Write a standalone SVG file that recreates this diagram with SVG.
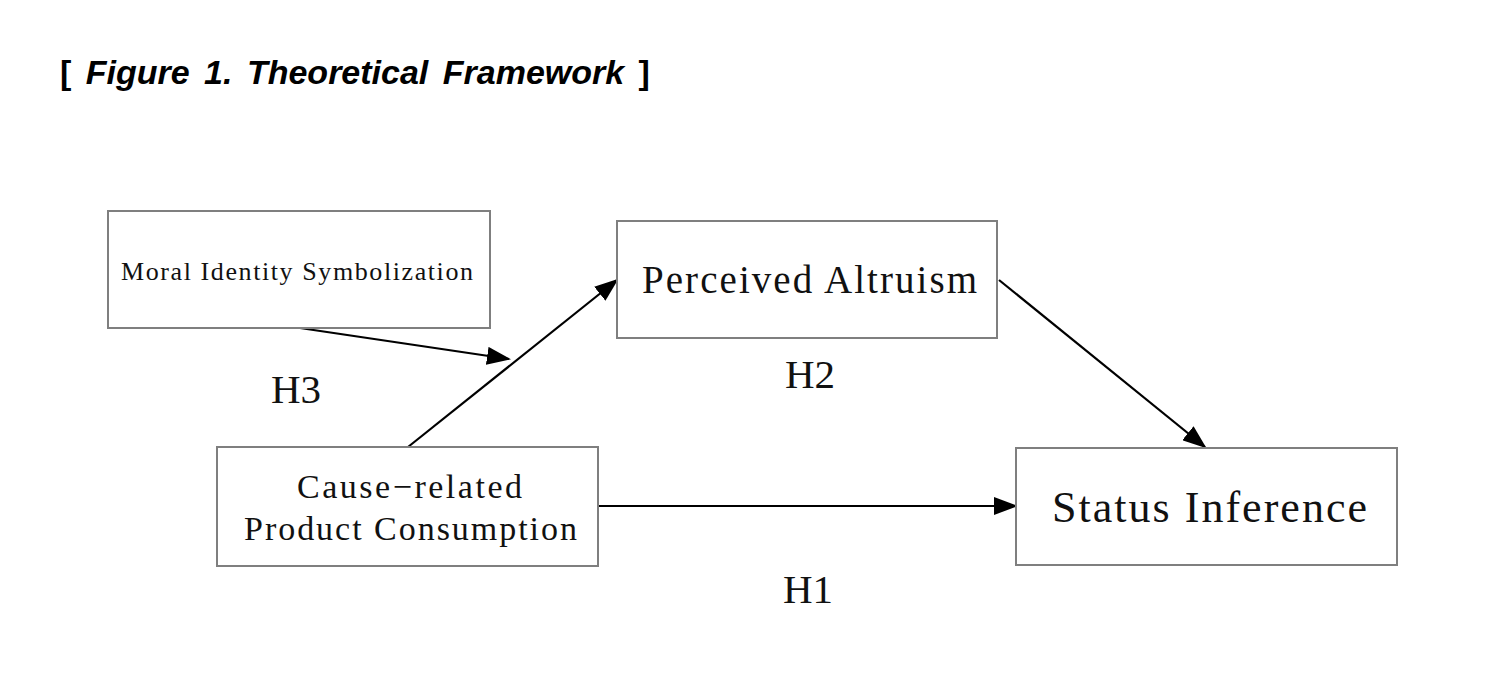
<svg xmlns="http://www.w3.org/2000/svg" width="1488" height="680" viewBox="0 0 1488 680">
<style>
.box{fill:#fff;stroke:#7f7f7f;stroke-width:2}
.lbl{font-family:"Liberation Serif","DejaVu Serif",serif;fill:#111}
.arr{stroke:#000;stroke-width:2.2;fill:none;marker-end:url(#ah)}
.title{font-family:"Liberation Sans",Arial,sans-serif;font-weight:bold;font-size:34px;fill:#000;word-spacing:5px}
</style>
<defs>
<marker id="ah" markerWidth="24" markerHeight="18" refX="22" refY="9" orient="auto" markerUnits="userSpaceOnUse" viewBox="0 0 24 18">
<path d="M0,0 L24,9 L0,18 Z" fill="#000"/>
</marker>
</defs>
<rect width="1488" height="680" fill="#fff"/>
<text class="title" x="60" y="84">[ <tspan font-style="italic">Figure 1. Theoretical Framework</tspan> ]</text>
<g id="connectors">
<line class="arr" x1="300" y1="328" x2="509" y2="359"/>
<line class="arr" x1="408" y1="447" x2="617" y2="280"/>
<line class="arr" x1="999" y1="280" x2="1205" y2="447"/>
<line class="arr" x1="598" y1="506" x2="1016" y2="506"/>
</g>
<g id="moral">
<rect class="box" x="108" y="211" width="382" height="117"/>
<text class="lbl" x="121" y="280" font-size="26" textLength="352" lengthAdjust="spacing">Moral Identity Symbolization</text>
</g>
<g id="altruism">
<rect class="box" x="617" y="221" width="380" height="117"/>
<text class="lbl" x="642" y="293" font-size="39" textLength="335" lengthAdjust="spacing">Perceived Altruism</text>
</g>
<g id="cause">
<rect class="box" x="217" y="447" width="381" height="119"/>
<text class="lbl" x="297" y="498" font-size="34" textLength="225" lengthAdjust="spacing">Cause−related</text>
<text class="lbl" x="244" y="540" font-size="34" textLength="333" lengthAdjust="spacing">Product Consumption</text>
</g>
<g id="status">
<rect class="box" x="1016" y="448" width="381" height="117"/>
<text class="lbl" x="1052" y="522" font-size="44" textLength="315" lengthAdjust="spacing">Status Inference</text>
</g>
<g id="labels">
<text class="lbl" x="296" y="403" font-size="41" text-anchor="middle">H3</text>
<text class="lbl" x="810" y="388" font-size="41" text-anchor="middle">H2</text>
<text class="lbl" x="808" y="603" font-size="41" text-anchor="middle">H1</text>
</g>
</svg>
